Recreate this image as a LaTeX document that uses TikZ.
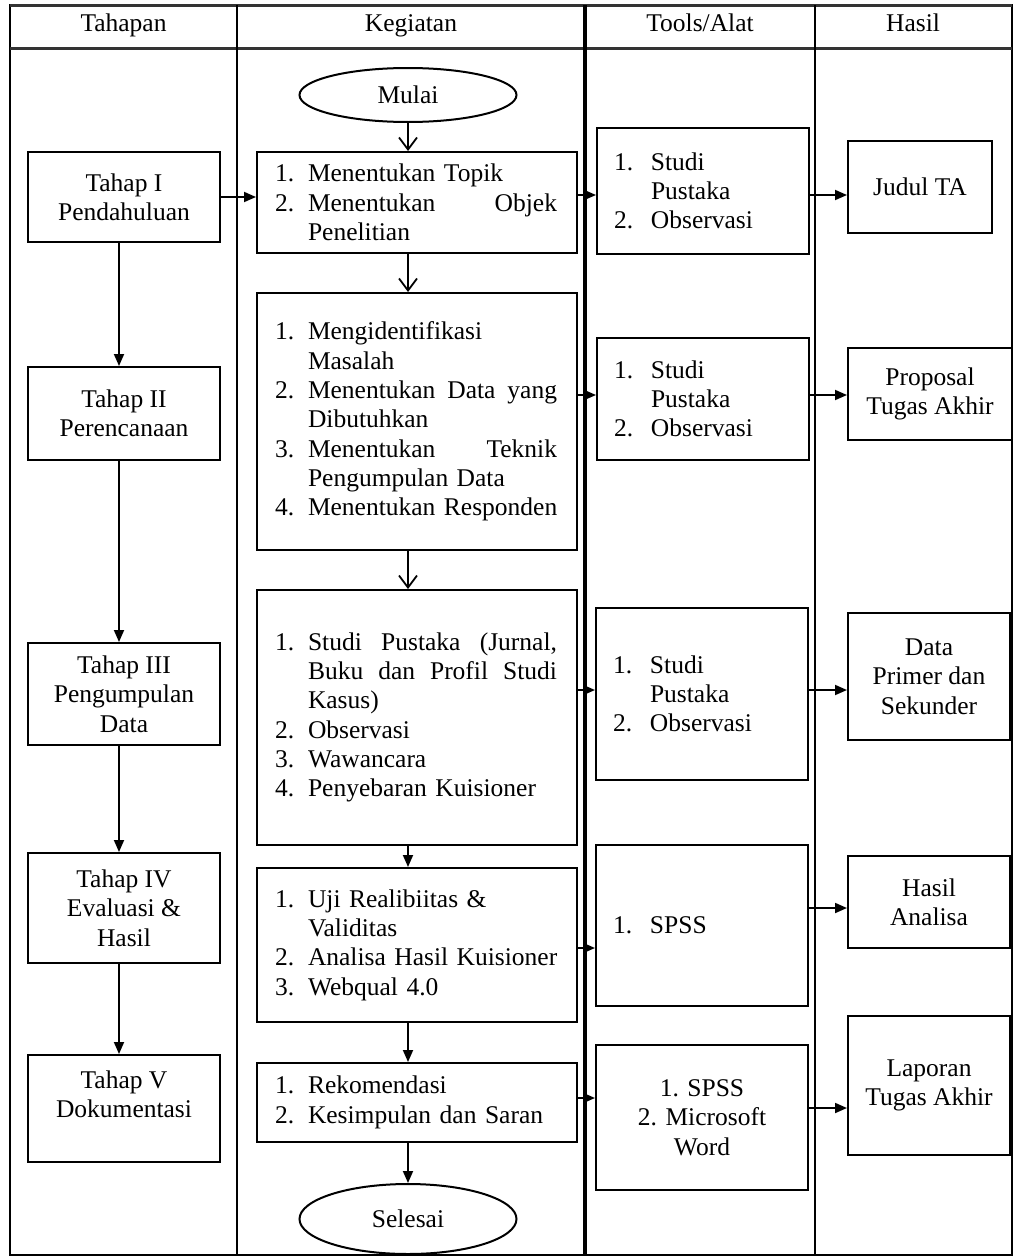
\documentclass[tikz,border=0pt]{standalone}
\usepackage{fontspec}
\setmainfont{Liberation Serif}
\usetikzlibrary{arrows.meta,shapes.geometric}
\newcommand{\nmr}[1]{\makebox[33pt][l]{#1}}
\newcommand{\nmt}[1]{\makebox[37pt][l]{#1}}
\newcommand{\jst}[1]{\makebox[249pt][l]{#1}}

\begin{document}
\begin{tikzpicture}[x=1pt,y=-1pt,
  font=\fontsize{25.5}{29.3}\selectfont,
  garis/.style={line width=1.8pt},
  judul/.style={anchor=base},
  kotak/.style={draw,line width=2pt,inner sep=0pt,align=center},
  keg/.style={draw,line width=2pt,inner xsep=18pt,inner ysep=0pt,text width=284pt,align=left},
  alat/.style={draw,line width=2pt,inner xsep=17pt,inner ysep=0pt,text width=178pt,align=left},
  oval/.style={draw,ellipse,line width=2pt,inner sep=0pt,minimum width=217pt},
  panah/.style={line width=1.8pt,-{Triangle[length=12pt,width=10pt]}},
  panahv/.style={line width=1.8pt,-{Straight Barb[length=12pt,width=18pt]}}]
  \useasboundingbox (0,0) rectangle (1014,1258);
  \draw[garis] (10,5) rectangle (1012,1255);
  \draw[line width=3pt,black!80] (10,5) -- (1012,5) (10,48) -- (1012,48);
  \foreach \x in {237,815}
    \draw[garis] (\x,5) -- (\x,1255);
  \draw[line width=3.5pt] (585,5) -- (585,1255);
  \node[judul] (hd1) at (123.5,31) {Tahapan};
  \node[judul] (hd2) at (411,31) {Kegiatan};
  \node[judul] (hd3) at (700,31) {Tools/Alat};
  \node[judul] (hd4) at (913,31) {Hasil};

  \node[kotak,minimum width=192pt,minimum height=90pt] (th1) at (124,197) {Tahap I\\Pendahuluan};
  \node[kotak,minimum width=192pt,minimum height=93pt] (th2) at (124,413.5) {Tahap II\\Perencanaan};
  \node[kotak,minimum width=192pt,minimum height=102pt] (th3) at (124,694) {Tahap III\\Pengumpulan\\Data};
  \node[kotak,minimum width=192pt,minimum height=110pt] (th4) at (124,908) {Tahap IV\\Evaluasi \&\\Hasil};
  \node[kotak,minimum width=192pt,minimum height=107pt] (th5) at (124,1108.5) {Tahap V\\Dokumentasi\\\mbox{}};

  \node[oval,minimum height=54pt] (mulai) at (408,95) {Mulai};
  \node[keg,minimum height=101pt] (k1) at (417,202.5) {%
    \nmr{1.}Menentukan Topik\\
    \nmr{2.}\jst{Menentukan\hfill Objek}\\
    \nmr{}Penelitian};
  \node[keg,minimum height=257pt] (k2) at (417,421.5) {%
    \nmr{1.}Mengidentifikasi\\
    \nmr{}Masalah\\
    \nmr{2.}\jst{Menentukan\hfill Data\hfill yang}\\
    \nmr{}Dibutuhkan\\
    \nmr{3.}\jst{Menentukan\hfill Teknik}\\
    \nmr{}Pengumpulan Data\\
    \nmr{4.}Menentukan Responden};
  \node[keg,minimum height=255pt] (k3) at (417,717.5) {%
    \nmr{1.}\jst{Studi\hfill Pustaka\hfill (Jurnal,}\\
    \nmr{}\jst{Buku\hfill dan\hfill Profil\hfill Studi}\\
    \nmr{}Kasus)\\
    \nmr{2.}Observasi\\
    \nmr{3.}Wawancara\\
    \nmr{4.}Penyebaran Kuisioner};
  \node[keg,minimum height=154pt] (k4) at (417,945) {%
    \nmr{1.}Uji Realibiitas \&\\
    \nmr{}Validitas\\
    \nmr{2.}Analisa Hasil Kuisioner\\
    \nmr{3.}Webqual 4.0};
  \node[keg,minimum height=79pt] (k5) at (417,1102.5) {%
    \nmr{1.}Rekomendasi\\
    \nmr{2.}Kesimpulan dan Saran};
  \node[oval,minimum height=70pt] (selesai) at (408,1219) {Selesai};

  \node[alat,minimum height=126pt] (t1) at (703,191) {\nmt{1.}Studi\\\nmt{}Pustaka\\\nmt{2.}Observasi};
  \node[alat,minimum height=122pt] (t2) at (703,399) {\nmt{1.}Studi\\\nmt{}Pustaka\\\nmt{2.}Observasi};
  \node[alat,minimum height=172pt] (t3) at (702,694) {\nmt{1.}Studi\\\nmt{}Pustaka\\\nmt{2.}Observasi};
  \node[alat,minimum height=161pt] (t4) at (702,925.5) {\nmt{1.}SPSS};
  \node[kotak,minimum width=212pt,minimum height=145pt] (t5) at (702,1117.5) {1. SPSS\\2. Microsoft\\Word};

  \node[kotak,minimum width=144pt,minimum height=92pt] (h1) at (920,187) {Judul TA};
  \node[kotak,minimum width=164pt,minimum height=92pt] (h2) at (930,394) {Proposal\\Tugas Akhir};
  \node[kotak,minimum width=162pt,minimum height=127pt] (h3) at (929,676.5) {Data\\Primer dan\\Sekunder};
  \node[kotak,minimum width=162pt,minimum height=92pt] (h4) at (929,902) {Hasil\\Analisa};
  \node[kotak,minimum width=162pt,minimum height=139pt] (h5) at (929,1085.5) {Laporan\\Tugas Akhir};

  \foreach \a/\b in {th1/th2,th2/th3,th3/th4,th4/th5}
    \draw[panah] ([xshift=-5pt]\a.south) -- ([xshift=-5pt]\b.north);
  \draw[panah] (th1.east) -- (th1.east -| k1.west);
  \draw[panahv] (mulai) -- (mulai |- k1.north);
  \foreach \a/\b in {k1/k2,k2/k3}
    \draw[panahv] (\a.south -| mulai) -- (\b.north -| mulai);
  \foreach \a/\b in {k3/k4,k4/k5}
    \draw[panah] (\a.south -| mulai) -- (\b.north -| mulai);
  \draw[panah] (k5.south -| mulai) -- (selesai);
  \foreach \a/\b/\y in {k1/t1/195,k2/t2/395,k3/t3/690,k4/t4/948,k5/t5/1098,
    t1/h1/195,t2/h2/395,t3/h3/690,t4/h4/908,t5/h5/1108}
    \draw[panah] (\a.east |- 0,\y) -- (\b.west |- 0,\y);
\end{tikzpicture}
\end{document}
